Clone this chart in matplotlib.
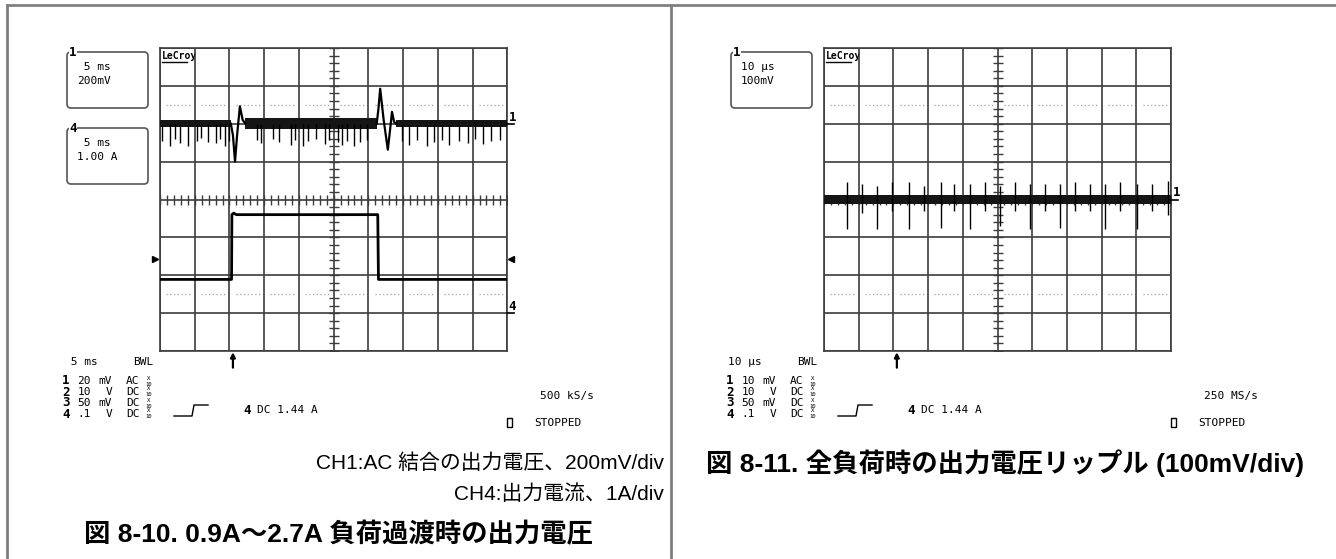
import numpy as np
import matplotlib
matplotlib.use("Agg")
import matplotlib.pyplot as plt
import matplotlib.transforms as mtransforms
from matplotlib.patches import FancyBboxPatch, Rectangle

W, H = 1336, 559

# ---------------- left scope: 0.9A -> 2.7A load transient ----------------
left_t_max = 50.0          # ms (5 ms/div)
left_ch1_mv_div = 200.0    # CH1 scale
left_ch1_ground = 2.0      # divisions above center
left_ch4_a_div = 1.0       # CH4 scale
left_ch4_ground = -3.0     # divisions (below center)

# CH4 output current (A)
ch4_t = [0.0, 10.3, 10.35, 10.6, 11.0, 31.35, 31.45, 50.0]
ch4_i = [0.89, 0.89, 2.60, 2.64, 2.60, 2.60, 0.89, 0.89]
trig_level_a = 1.44

# CH1 output voltage (mV, AC coupled): noise band segments
ch1_band_start = [0.0, 12.3, 34.0]
ch1_band_end = [10.2, 31.2, 50.0]
ch1_band_hi = [22, 30, 22]
ch1_band_lo = [-18, -30, -18]

# transient at the load step up / step down
ch1_rise_t = [10.2, 10.5, 10.8, 11.1, 11.5, 11.9, 12.3]
ch1_rise_v = [0, -60, -200, -60, 92, 20, 0]
ch1_fall_t = [31.2, 31.45, 31.7, 32.2, 32.8, 33.1, 33.4, 33.7, 34.0]
ch1_fall_v = [0, 80, 185, 20, -137, -40, 63, 10, 0]

# downward noise spikes (ms, mV)
ch1_spike_t = [0.35, 1.44, 2.16, 2.81, 4.03, 5.38, 5.9, 6.95, 8.0, 8.64, 9.36, 10.0,
               13.9, 14.6, 16.3, 17.1, 18.8, 19.4, 20.6, 21.3, 22.5, 23.7, 24.3, 25.6,
               26.2, 26.9, 28.0, 28.8, 29.8,
               34.8, 35.9, 37.0, 38.5, 39.4, 40.6, 41.6, 43.1, 44.3, 45.3, 46.5, 47.7, 48.9]
ch1_spike_v = [-90, -115, -80, -100, -115, -90, -75, -95, -100, -80, -120, -90,
               -85, -100, -80, -95, -110, -85, -120, -90, -80, -105, -85, -95,
               -110, -90, -120, -95, -85,
               -90, -110, -85, -120, -95, -85, -110, -90, -100, -80, -105, -90, -85]

# ---------------- right scope: ripple at full load ----------------
right_t_max = 100.0        # us (10 us/div)
right_ch1_mv_div = 100.0

ripple_band = [-11, 11]
ripple_spike_t = [6.6, 11.0, 15.2, 19.5, 24.4, 28.7, 33.6, 37.5, 42.2, 46.5, 50.8,
                  55.1, 59.4, 63.7, 68.0, 72.3, 76.7, 80.9, 85.4, 90.1, 94.6, 99.0]
ripple_spike_up = [45, 40, 35, 45, 45, 35, 45, 40, 40, 45, 35,
                   45, 40, 40, 40, 45, 40, 40, 45, 40, 40, 50]
ripple_spike_dn = [-78, -35, -78, -30, -78, -30, -75, -30, -78, -30, -70,
                   -30, -78, -30, -75, -30, -30, -78, -30, -78, -30, -40]

# ---------------- text ----------------
left_caption_1 = "CH1:AC 結合の出力電圧、200mV/div"
left_caption_2 = "CH4:出力電流、1A/div"
left_title = "図 8-10. 0.9A～2.7A 負荷過渡時の出力電圧"
right_title = "図 8-11. 全負荷時の出力電圧リップル (100mV/div)"

chan_rows = [("1", "20", "mV", "AC"), ("2", "10", "V", "DC"),
             ("3", "50", "mV", "DC"), ("4", ".1", "V", "DC")]
right_chan_rows = [("1", "10", "mV", "AC"), ("2", "10", "V", "DC"),
                   ("3", "50", "mV", "DC"), ("4", ".1", "V", "DC")]

GRID_C = "#3c3c3c"
MONO = "DejaVu Sans Mono"
plt.rcParams['font.family'] = ['Liberation Sans', 'Noto Sans CJK JP', 'DejaVu Sans']


def px_axes(fig, x0, y0, x1, y1):
    return fig.add_axes([x0 / W, 1 - y1 / H, (x1 - x0) / W, (y1 - y0) / H])


def draw_grid(ax, t_max):
    dx = t_max / 10
    ax.set_xlim(0, t_max)
    ax.set_ylim(-4, 4)
    ax.set_xticks(np.linspace(0, t_max, 11))
    ax.set_yticks(np.arange(-4, 5))
    ax.grid(True, color=GRID_C, lw=1.2)
    ax.tick_params(length=0, labelbottom=False, labelleft=False)
    for s in ax.spines.values():
        s.set_color(GRID_C)
        s.set_linewidth(1.2)
    ax.patch.set_alpha(0)
    # minor ticks on the center cross
    ax.plot(np.linspace(0, t_max, 51), np.zeros(51), ls="none", marker="|",
            ms=7, mew=1.0, color=GRID_C)
    ys = np.arange(-4, 4.01, 0.2)
    ax.plot(np.full(ys.size, t_max / 2), ys, ls="none", marker="_",
            ms=7, mew=1.0, color=GRID_C)
    # dotted reference lines
    for k in range(10):
        ax.hlines([2.5, -2.5], k * dx + 0.18 * dx, k * dx + 0.88 * dx,
                  colors="#a0a0a0", linestyles=(0, (1, 2)), lw=0.9)


def chan_marker(ax_host, ax_ch, level, label):
    tr = mtransforms.blended_transform_factory(ax_host.transAxes, ax_ch.transData)
    ax_ch.plot([1.0, 1.02], [level, level], color="black", lw=1.2,
               transform=tr, clip_on=False)
    ax_ch.text(1.004, level, label, transform=tr, fontsize=9, family=MONO,
               fontweight="bold", ha="left", va="bottom")


def trig_arrow(ax, t):
    ax.annotate("", xy=(t, -0.004), xycoords=("data", "axes fraction"),
                xytext=(t, -0.055), textcoords=("data", "axes fraction"),
                arrowprops=dict(arrowstyle="-|>", color="black", lw=1.6,
                                mutation_scale=7, shrinkA=0, shrinkB=0))


def scope_text(ov, dx, tbase, box_lines, rows, coupling_note, rate):
    # info boxes top-left
    for (y0, label, lines) in box_lines:
        ov.add_patch(FancyBboxPatch((67 + dx, y0), 81, 56,
                                    boxstyle="round,pad=0,rounding_size=4",
                                    fc="white", ec="#555555", lw=1.2))
        ov.text(73 + dx, y0 + 1, label, fontsize=9, family=MONO, fontweight="bold",
                ha="center", va="center",
                bbox=dict(fc="white", ec="none", pad=0.3))
        for j, s in enumerate(lines):
            ov.text(77 + dx, y0 + 15 + 14 * j, s, fontsize=8, family=MONO,
                    ha="left", va="center")
    ov.text(162 + dx, 56, "LeCroy", fontsize=7, family=MONO, fontweight="bold",
            ha="left", va="center")
    ov.plot([162 + dx, 187 + dx], [62, 62], color="black", lw=1)

    ov.text(64 + dx, 362, tbase, fontsize=8, family=MONO, ha="left", va="center")
    ov.text(133 + dx, 362, "BWL", fontsize=8, family=MONO, ha="left", va="center")
    for j, (num, val, unit, cpl) in enumerate(rows):
        y = 381 + 11 * j
        ov.text(62 + dx, y, num, fontsize=9, family=MONO, fontweight="bold",
                ha="left", va="center")
        ov.text(91 + dx, y, val, fontsize=8, family=MONO, ha="right", va="center")
        ov.text(112 + dx, y, unit, fontsize=8, family=MONO, ha="right", va="center")
        ov.text(126 + dx, y, cpl, fontsize=8, family=MONO, ha="left", va="center")
        ov.text(149 + dx, y - 3, "X", fontsize=4, family=MONO, ha="center", va="center")
        ov.text(149 + dx, y + 3, "10", fontsize=4, family=MONO, ha="center", va="center")
    # trigger step symbol
    ov.plot(np.array([174, 192, 194, 208]) + dx, [416, 416, 405, 405],
            color="black", lw=1)
    ov.text(243 + dx, 410, "4", fontsize=9, family=MONO, fontweight="bold",
            ha="left", va="center")
    ov.text(257 + dx, 410, coupling_note, fontsize=8, family=MONO,
            ha="left", va="center")
    ov.text(540 + dx, 396, rate, fontsize=8, family=MONO, ha="left", va="center")
    ov.add_patch(Rectangle((507 + dx, 418), 5, 9, fc="white", ec="black", lw=1))
    ov.text(534 + dx, 423, "STOPPED", fontsize=8, family=MONO, ha="left", va="center")


fig = plt.figure(figsize=(W / 100, H / 100), dpi=100)

ov = fig.add_axes([0, 0, 1, 1], zorder=0)
ov.set_xlim(0, W)
ov.set_ylim(H, 0)
ov.axis("off")

# panel frame
ov.plot([7, 7], [5, H], color="#808080", lw=2)
ov.plot([7, W], [5, 5], color="#808080", lw=2)
ov.plot([671, 671], [5, H], color="#808080", lw=2)

# ---- left scope ----
axL = px_axes(fig, 160, 48, 507.3, 351)
axL.set_zorder(2)
draw_grid(axL, left_t_max)

ax1 = axL.twinx()
ax1.set_ylim((-4 - left_ch1_ground) * left_ch1_mv_div, (4 - left_ch1_ground) * left_ch1_mv_div)
ax1.axis("off")
for a, b, hi, lo in zip(ch1_band_start, ch1_band_end, ch1_band_hi, ch1_band_lo):
    ax1.fill_between([a, b], [lo, lo], [hi, hi], color="#151515", lw=0)
ax1.vlines(ch1_spike_t, 0, ch1_spike_v, color="black", lw=1.0)
ax1.plot(ch1_rise_t, ch1_rise_v, color="black", lw=1.6)
ax1.plot(ch1_fall_t, ch1_fall_v, color="black", lw=1.6)
chan_marker(axL, ax1, 0, "1")

ax4 = axL.twinx()
ax4.set_ylim((-4 - left_ch4_ground) * left_ch4_a_div, (4 - left_ch4_ground) * left_ch4_a_div)
ax4.axis("off")
ax4.plot(ch4_t, ch4_i, color="black", lw=2.0)
chan_marker(axL, ax4, 0, "4")
tr4 = mtransforms.blended_transform_factory(axL.transAxes, ax4.transData)
ax4.plot([-0.014], [trig_level_a], marker=">", ms=4, color="black",
         transform=tr4, clip_on=False)
ax4.plot([1.012], [trig_level_a], marker="<", ms=4, color="black",
         transform=tr4, clip_on=False)
trig_arrow(axL, 2.1 * left_t_max / 10)

# ---- right scope ----
axR = px_axes(fig, 824, 48, 1171, 351)
axR.set_zorder(2)
draw_grid(axR, right_t_max)
axr1 = axR.twinx()
axr1.set_ylim(-4 * right_ch1_mv_div, 4 * right_ch1_mv_div)
axr1.axis("off")
axr1.fill_between([0, right_t_max], [ripple_band[0]] * 2, [ripple_band[1]] * 2,
                  color="#151515", lw=0)
axr1.vlines(ripple_spike_t, ripple_spike_dn, ripple_spike_up, color="black", lw=1.0)
chan_marker(axR, axr1, 0, "1")
trig_arrow(axR, 2.1 * right_t_max / 10)

# ---- scope readouts ----
scope_text(ov, 0, " 5 ms",
           [(52, "1", [" 5 ms", "200mV"]), (128, "4", [" 5 ms", "1.00 A"])],
           chan_rows, "DC 1.44 A", "500 kS/s")
scope_text(ov, 664, "10 µs",
           [(52, "1", ["10 µs", "100mV"])],
           right_chan_rows, "DC 1.44 A", "250 MS/s")

# ---- captions ----
ov.text(664, 463, left_caption_1, fontsize=15, ha="right", va="center")
ov.text(664, 494, left_caption_2, fontsize=15, ha="right", va="center")
ov.text(339, 535, left_title, fontsize=19, fontweight="bold", ha="center", va="center")
ov.text(1005, 463, right_title, fontsize=19, fontweight="bold", ha="center", va="center")

fig.savefig("out.png", dpi=100)
